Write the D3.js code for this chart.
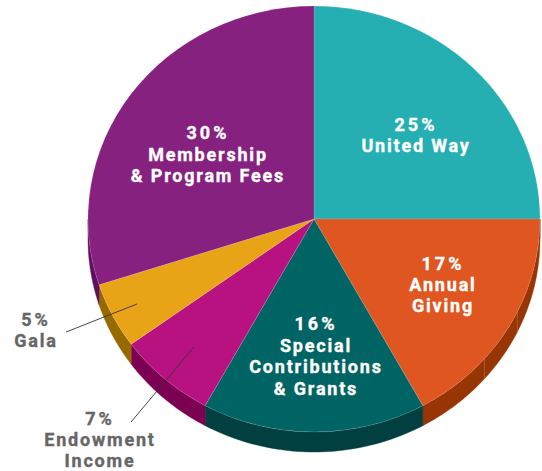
<!DOCTYPE html>
<html>
<head>
<style>
  body{ margin:0; background:#fff; }
  svg{ display:block; }
  text{ font-family:Roboto, sans-serif; font-weight:700; text-anchor:middle; }
</style>
</head>
<body>
<svg id="svgVis"></svg>
<script src="https://cdn.jsdelivr.net/npm/d3@7/dist/d3.min.js"></script>
<script>

// clockwise from 12 o'clock
var categories = ['United Way', 'Annual Giving', 'Special Contributions & Grants', 'Endowment Income', 'Gala', 'Membership & Program Fees'];
var shares = [25, 17, 16, 7, 5, 30];
var labelLines = [
  ['25%', 'United Way'],
  ['17%', 'Annual', 'Giving'],
  ['16%', 'Special', 'Contributions', '& Grants'],
  ['7%', 'Endowment', 'Income'],
  ['5%', 'Gala'],
  ['30%', 'Membership', '& Program Fees']
];
var topColors = ['#26afb2', '#e05620', '#016464', '#b71280', '#e8a317', '#872180'];
var wallColors = ['#1a7c7e', '#973604', '#013f40', '#7b0052', '#976a00', '#5f0f60'];
// faint seams in the orange wall, in cumulative %
var wallSeams = [32.2, 36.4];

var width = 542, height = 471;
var cx = 314, cy = 219, rx = 226, ry = 213, depth = 20;

// label anchor + first baseline, line height
var labelLayout = [
  {x: 416, y: 131, lh: 21, fill: '#fff'},
  {x: 443, y: 270, lh: 21, fill: '#fff'},
  {x: 316, y: 330, lh: 21.5, fill: '#fff'},
  {x: 100, y: 425, lh: 21, fill: '#666'},
  {x: 36, y: 326, lh: 21, fill: '#666'},
  {x: 208, y: 139, lh: 21.5, fill: '#fff'}
];
var leaders = [
  null, null, null,
  {x1: 131, y1: 422, x2: 194, y2: 347},
  {x1: 66, y1: 332, x2: 137, y2: 304},
  null
];

var svg = d3.select('#svgVis').attr('width', width).attr('height', height);

var topColor = d3.scaleOrdinal().domain(categories).range(topColors);
var wallColor = d3.scaleOrdinal().domain(categories).range(wallColors);

var pie = d3.pie().sort(null).value(function(d, i) { return shares[i]; });
var arcs = pie(categories);

function rimX(a) { return cx + rx * Math.sin(a); }
function rimY(a) { return cy - ry * Math.cos(a); }

// side wall, only the front half of the disc shows
var wallLine = d3.line().x(function(p) { return p[0]; }).y(function(p) { return p[1]; });

function wallPath(d) {
  var a0 = Math.max(d.startAngle, Math.PI / 2);
  var a1 = Math.min(d.endAngle, Math.PI * 1.5);
  if (a1 <= a0) return null;
  var steps = d3.range(0, 41).map(function(k) { return a0 + (a1 - a0) * k / 40; });
  var upper = steps.map(function(a) { return [rimX(a), rimY(a)]; });
  var lower = steps.slice().reverse().map(function(a) { return [rimX(a), rimY(a) + depth]; });
  return wallLine(upper.concat(lower)) + 'Z';
}

svg.append('g').selectAll('path')
  .data(arcs)
  .enter()
  .append('path')
  .attr('d', wallPath)
  .attr('fill', function(d) { return wallColor(d.data); })
  .attr('stroke', function(d) { return wallColor(d.data); })
  .attr('stroke-width', 0.4);

var seamAngle = d3.scaleLinear().domain([0, 100]).range([0, Math.PI * 2]);

svg.append('g').selectAll('line')
  .data(wallSeams)
  .enter()
  .append('line')
  .attr('x1', function(d) { return rimX(seamAngle(d)); })
  .attr('y1', function(d) { return rimY(seamAngle(d)); })
  .attr('x2', function(d) { return rimX(seamAngle(d)); })
  .attr('y2', function(d) { return rimY(seamAngle(d)) + depth; })
  .attr('stroke', '#fff')
  .attr('stroke-opacity', 0.3)
  .attr('stroke-width', 0.6);

var arc = d3.arc().innerRadius(0).outerRadius(rx);

svg.append('g')
  .attr('transform', 'translate(' + cx + ',' + cy + ') scale(1,' + (ry / rx) + ')')
  .selectAll('path')
  .data(arcs)
  .enter()
  .append('path')
  .attr('d', arc)
  .attr('fill', function(d) { return topColor(d.data); })
  .attr('stroke', '#fff')
  .attr('stroke-opacity', 0.25)
  .attr('stroke-width', 0.5);

// leader lines run over the slices
svg.append('g').selectAll('line')
  .data(leaders.filter(Boolean))
  .enter()
  .append('line')
  .attr('x1', function(d) { return d.x1; })
  .attr('y1', function(d) { return d.y1; })
  .attr('x2', function(d) { return d.x2; })
  .attr('y2', function(d) { return d.y2; })
  .attr('stroke', '#333')
  .attr('stroke-width', 0.9);

var labels = svg.append('g').selectAll('text')
  .data(labelLines)
  .enter()
  .append('text')
  .attr('fill', function(d, i) { return labelLayout[i].fill; })
  .attr('stroke', function(d, i) { return labelLayout[i].fill; })
  .attr('stroke-width', 0.35);

// the % line is set looser than the name
labels.each(function(lines, i) {
  var pos = labelLayout[i];
  d3.select(this).selectAll('tspan')
    .data(lines)
    .enter()
    .append('tspan')
    .attr('x', pos.x)
    .attr('y', function(d, k) { return pos.y + k * pos.lh; })
    .attr('font-size', 18)
    .attr('letter-spacing', function(d, k) { return k === 0 ? 3 : 1.8; })
    .text(function(d) { return d; });
});

</script>
</body>
</html>
